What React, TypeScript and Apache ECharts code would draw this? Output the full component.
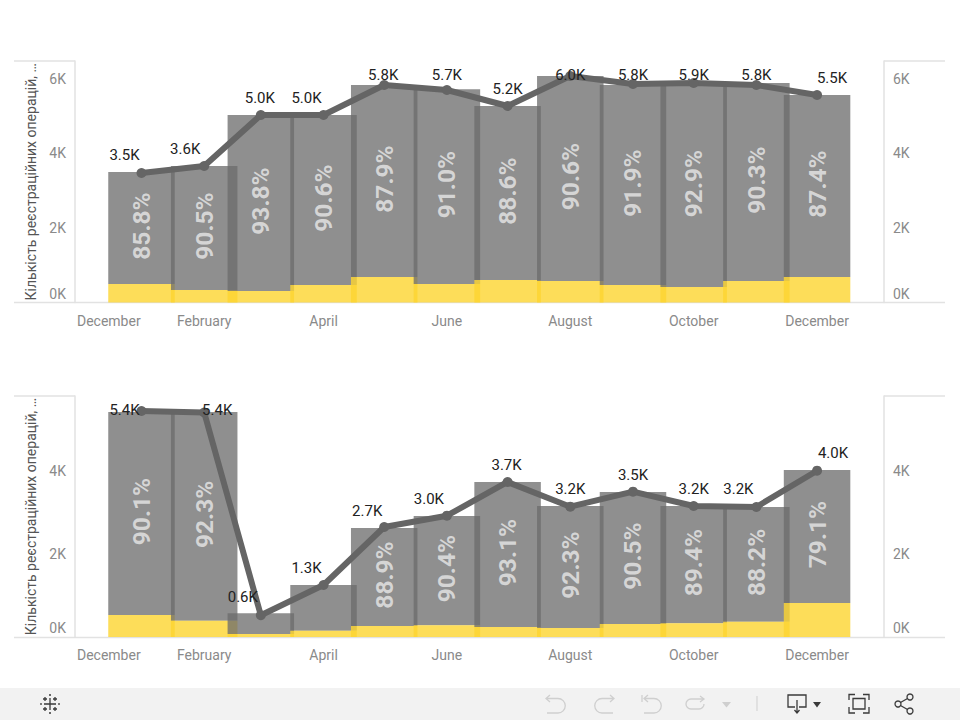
import React, { useEffect, useRef } from "react";
import * as echarts from "echarts";

const monthDates = ["2023-01-01","2023-02-01","2023-03-01","2023-04-01","2023-05-01","2023-06-01","2023-07-01","2023-08-01","2023-09-01","2023-10-01","2023-11-01","2023-12-01"];
const tickDates = ["2022-12-01","2023-02-01","2023-04-01","2023-06-01","2023-08-01","2023-10-01","2023-12-01"];
const tickLabels = ["December","February","April","June","August","October","December"];
const axisTitle = "Кількість реєстраційних операцій, …";
const yTicks = [0, 2000, 4000, 6000];
const yTicksBottom = [0, 2000, 4000];

const topTotals = [3499,3660,5027,5027,5831,5716,5268,6072,5831,5858,5885,5563];
const topYellow = [496,335,308,469,684,496,603,576,469,416,576,684];
const topLine = [3472,3660,5027,5027,5831,5697,5268,6072,5858,5885,5831,5563];
const topPct = ["85.8%","90.5%","93.8%","90.6%","87.9%","91.0%","88.6%","90.6%","91.9%","92.9%","90.3%","87.4%"];
const topLabels = ["3.5K","3.6K","5.0K","5.0K","5.8K","5.7K","5.2K","6.0K","5.8K","5.9K","5.8K","5.5K"];
const topLabelOffsets = [[-17,-18],[-19,-17],[-1,-17],[-17,-17],[-1,-10],[0,-15],[0,-17],[0,-1],[0,-9],[0,-8],[0,-10],[15,-17]];

const bottomTotals = [5420,5420,570,1253,2627,2916,3735,3157,3494,3157,3133,4024];
const bottomYellow = [530,393,70,150,265,283,241,216,313,330,365,819];
const bottomLine = [5446,5410,523,1253,2650,2923,3735,3140,3501,3157,3133,4007];
const bottomPct = ["90.1%","92.3%","","","88.9%","90.4%","93.1%","92.3%","90.5%","89.4%","88.2%","79.1%"];
const bottomLabels = ["5.4K","5.4K","0.6K","1.3K","2.7K","3.0K","3.7K","3.2K","3.5K","3.2K","3.2K","4.0K"];
const bottomLabelOffsets = [[-17,-1],[13,-2],[-18,-18],[-17,-17],[-17,-16],[-18,-17],[-1,-17],[0,-18],[0,-17],[0,-17],[-18,-18],[16,-18]];

const DAY = 86400000;
const ts = (s: string) => Date.parse(s + "T00:00:00Z");
const xMin = ts("2023-01-01") - 32.88 * DAY;
const xMax = ts("2023-01-01") + 367.1 * DAY;
const FONT = "Roboto";
const BAR_W = 66.5;

const GRAY = "rgba(108,108,108,0.76)";
const YELLOW = "rgba(252,212,48,0.8)";
const LINE = "#656565";
const AXIS = "#e2e2e2";

const barsRenderer = (totals: number[], yellow: number[], pct: string[]) => (params: any, api: any) => {
  const i = params.dataIndex;
  const x = api.value(0);
  const [cx, yTop] = api.coord([x, totals[i]]);
  const [, yMid] = api.coord([x, yellow[i]]);
  const [, yBase] = api.coord([x, 0]);
  const left = cx - BAR_W / 2;
  const children: any[] = [
    { type: "rect", shape: { x: left, y: yTop, width: BAR_W, height: yMid - yTop }, style: { fill: GRAY } },
    { type: "rect", shape: { x: left, y: yMid, width: BAR_W, height: yBase - yMid }, style: { fill: YELLOW } },
  ];
  if (pct[i]) {
    children.push({
      type: "text",
      x: cx,
      y: (yTop + yMid) / 2 - 2,
      rotation: Math.PI / 2,
      z2: 5,
      style: { text: pct[i], align: "center", verticalAlign: "middle", fontFamily: FONT, fontWeight: 700, fontSize: 24.5, fill: "rgba(218,218,218,0.95)" },
    });
  }
  return { type: "group", children };
};

const barSeries = (idx: number, totals: number[], yellow: number[], pct: string[]) => ({
  type: "custom",
  xAxisIndex: idx,
  yAxisIndex: idx * 2,
  clip: false,
  renderItem: barsRenderer(totals, yellow, pct),
  encode: { x: 0, y: 1 },
  data: monthDates.map((d, i) => [ts(d), totals[i]]),
  z: 2,
});

const lineSeries = (idx: number, values: number[], labels: string[], offsets: number[][]) => ({
  type: "line",
  xAxisIndex: idx,
  yAxisIndex: idx * 2,
  symbol: "circle",
  symbolSize: 10,
  showAllSymbol: true,
  lineStyle: { color: LINE, width: 6 },
  itemStyle: { color: LINE },
  data: monthDates.map((d, i) => ({
    value: [ts(d), values[i]],
    label: {
      show: true,
      position: "inside",
      offset: offsets[i],
      formatter: labels[i],
      color: "#222",
      fontFamily: FONT,
      fontSize: 15,
    },
  })),
  z: 5,
});

const xAxis = (gridIndex: number) => ({
  type: "value",
  gridIndex,
  min: xMin,
  max: xMax,
  splitLine: { show: false },
  axisLine: { show: false },
  axisTick: { show: false },
  axisLabel: {
    customValues: tickDates.map(ts),
    margin: 11,
    color: "#8a8a8a",
    fontFamily: FONT,
    fontSize: 14,
    formatter: (v: number) => {
      const k = tickDates.map(ts).indexOf(v);
      if (k < 0) return "";
      return k === 0 ? `{first|${tickLabels[k]}}` : tickLabels[k];
    },
    rich: { first: { padding: [0, 0, 0, 60], color: "#8a8a8a", fontFamily: FONT, fontSize: 14 } },
  },
});

const yAxis = (gridIndex: number, position: string, max: number, ticks: number[], withName: boolean) => ({
  type: "value",
  gridIndex,
  position,
  min: 0,
  max,
  splitLine: { show: false },
  axisTick: { show: false },
  axisLine: { show: true, onZero: false, lineStyle: { color: AXIS, width: 1.5 } },
  axisLabel: {
    customValues: ticks,
    margin: 9,
    color: "#8a8a8a",
    fontFamily: FONT,
    fontSize: 14,
    verticalAlignMinLabel: "bottom",
    formatter: (v: number) => (v === 0 ? `{zero|0K}` : `${v / 1000}K`),
    rich: { zero: { padding: [0, 0, 2, 0], color: "#8a8a8a", fontFamily: FONT, fontSize: 14 } },
  },
  name: withName ? axisTitle : "",
  nameLocation: "middle",
  nameGap: 36,
  nameTextStyle: { color: "#555", fontFamily: FONT, fontSize: 14 },
});

const hLine = (x1: number, x2: number, y: number) => ({
  type: "line",
  shape: { x1, y1: y, x2, y2: y },
  style: { stroke: AXIS, lineWidth: 1.5 },
  silent: true,
});

const ICON_OFF = "#cfcfcf";
const ICON_ON = "#3a3a3a";
const icons: [string, string, string][] = [
  ["iconMove", "M50 698 V710 M44 704 H56 M43 699 H47 M45 697 V701 M53 699 H57 M55 697 V701 M43 709 H47 M45 707 V711 M53 709 H57 M55 707 V711 M49 695 H51 M49 713 H51 M41 703 V705 M59 703 V705", ICON_ON],
  ["iconUndo", "M547 698.5 H558 A7 7 0 0 1 558 713 H547 M550 695 L546 698.5 L550 702", ICON_OFF],
  ["iconRedo", "M613 698.5 H602 A7 7 0 0 0 602 713 H613 M610 695 L614 698.5 L610 702", ICON_OFF],
  ["iconReset", "M644 698.5 H654 A7 7 0 0 1 654 713 H644 M642 695 V702 M648 695 L644 698.5 L648 702", ICON_OFF],
  ["iconLoop", "M703 699 H691 A5 5 0 0 0 691 709 H699 A5 5 0 0 0 704 704 M700 696 L704 699 L700 702", ICON_OFF],
  ["iconDownload", "M795 707 H788 V695 H806 V707 H799 M797 700 V712 M794.5 710 L797 713 L799.5 710", ICON_ON],
  ["iconFull", "M849 700 V694.5 H855 M863 694.5 H869 V700 M849 707 V713 H855 M863 713 H869 V707 M853 698.5 H865 V709 H853 Z", ICON_ON],
  ["iconShare", "M900.5 702.5 L907.5 698.5 M900.5 705.5 L907.5 709.5", ICON_ON],
];
icons.forEach(([name, d]) => echarts.graphic.registerShape(name, echarts.graphic.extendPath(d, {})));

export default function App() {
  const ref = useRef<HTMLDivElement>(null);
  useEffect(() => {
    document.body.style.margin = "0";
    const chart = echarts.init(ref.current!, undefined, { renderer: "svg" });
    chart.setOption({
      animation: false,
      backgroundColor: "#fff",
      grid: [
        { left: 75, width: 809, top: 61, height: 241.5 },
        { left: 75, width: 809, top: 396, height: 241 },
      ],
      xAxis: [xAxis(0), xAxis(1)],
      yAxis: [
        yAxis(0, "left", 6475, yTicks, true),
        yAxis(0, "right", 6475, yTicks, false),
        yAxis(1, "left", 5807, yTicksBottom, true),
        yAxis(1, "right", 5807, yTicksBottom, false),
      ],
      series: [
        barSeries(0, topTotals, topYellow, topPct),
        lineSeries(0, topLine, topLabels, topLabelOffsets),
        barSeries(1, bottomTotals, bottomYellow, bottomPct),
        lineSeries(1, bottomLine, bottomLabels, bottomLabelOffsets),
      ],
      graphic: [
        hLine(14, 945, 302.5),
        hLine(14, 945, 637.5),
        hLine(14, 75, 61),
        hLine(884, 945, 61),
        hLine(14, 75, 396),
        hLine(884, 945, 396),
        { type: "rect", shape: { x: 0, y: 688, width: 960, height: 32 }, style: { fill: "#f2f2f2" } },
        ...icons.map(([name, , color]) => ({ type: name, x: 0, y: 0, style: { fill: "none", stroke: color, lineWidth: 1.3 } })),
        { type: "polygon", shape: { points: [[722, 702], [731, 702], [726.5, 707.5]] }, style: { fill: ICON_OFF } },
        { type: "polygon", shape: { points: [[813, 702], [821, 702], [817, 707.5]] }, style: { fill: ICON_ON } },
        { type: "line", shape: { x1: 757, y1: 696, x2: 757, y2: 711 }, style: { stroke: ICON_OFF, lineWidth: 1 } },
        { type: "circle", shape: { cx: 898, cy: 704, r: 3 }, style: { fill: "none", stroke: ICON_ON, lineWidth: 1.3 } },
        { type: "circle", shape: { cx: 910, cy: 697, r: 3 }, style: { fill: "none", stroke: ICON_ON, lineWidth: 1.3 } },
        { type: "circle", shape: { cx: 910, cy: 711, r: 3 }, style: { fill: "none", stroke: ICON_ON, lineWidth: 1.3 } },
      ],
    });
    return () => chart.dispose();
  }, []);
  return <div ref={ref} style={{ width: 960, height: 720 }} />;
}
